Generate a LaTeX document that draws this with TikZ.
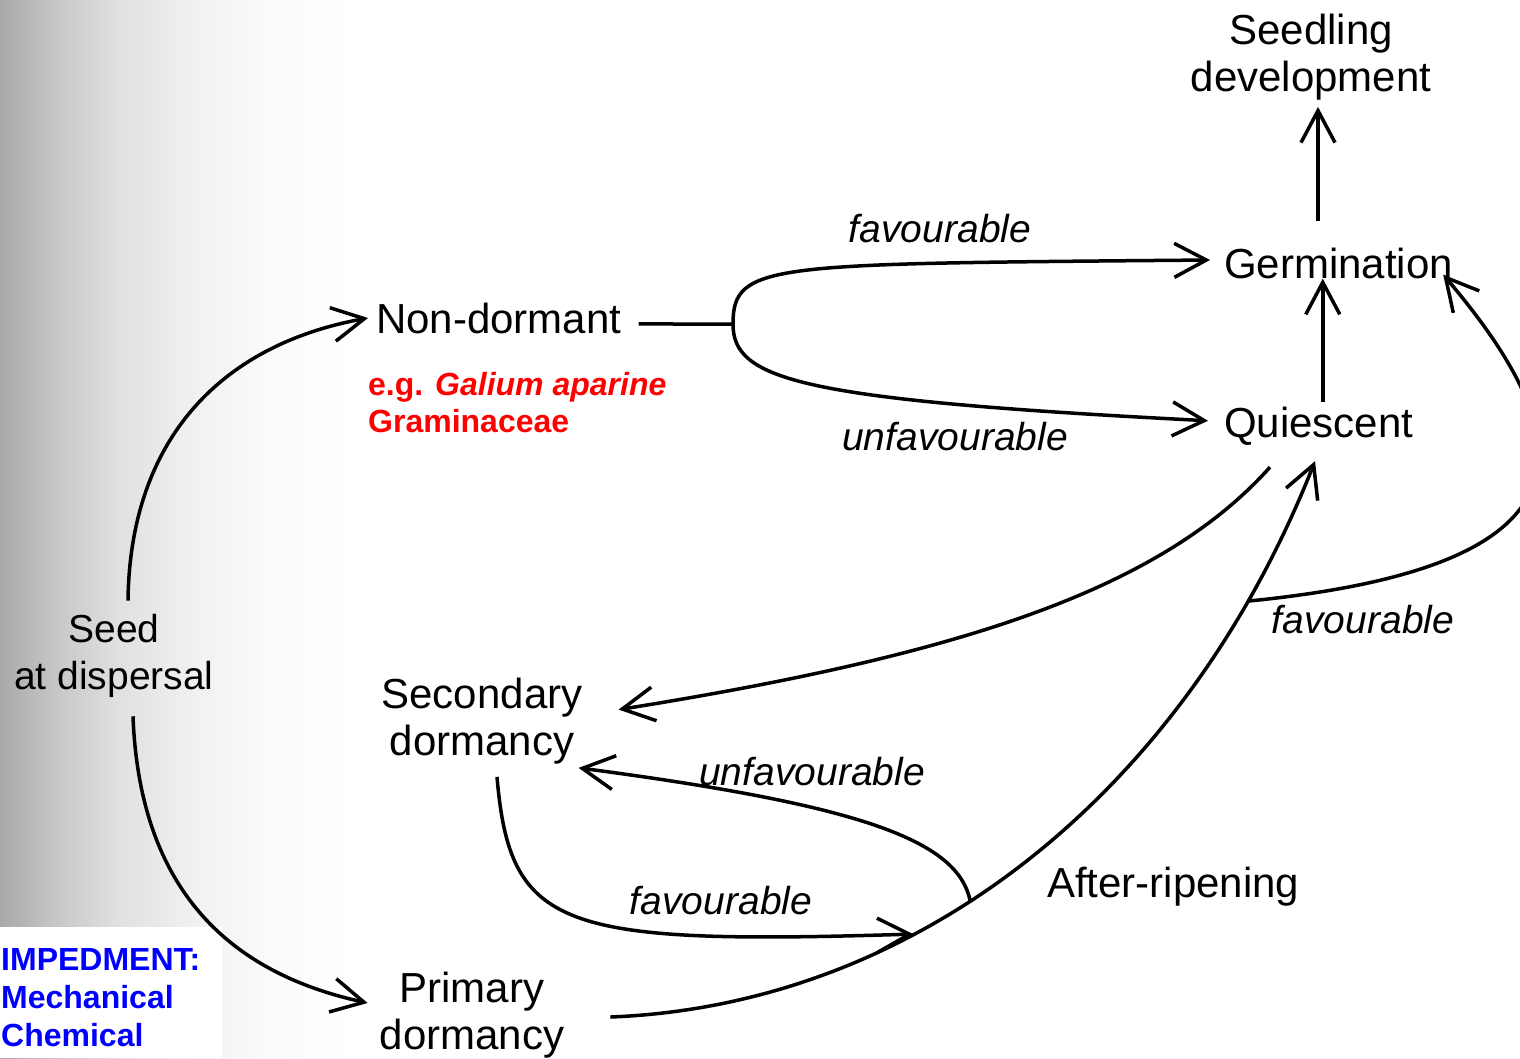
\documentclass[tikz,border=0pt]{standalone}
\usepackage{fontspec}
\setmainfont{Liberation Sans}
\usetikzlibrary{arrows.meta,calc}
\pgfdeclarehorizontalshading{leftfade}{100bp}{color(0bp)=(black!34); color(25bp)=(black!34); color(33bp)=(black!22); color(42bp)=(black!12); color(52bp)=(black!6); color(62bp)=(black!2); color(75bp)=(white); color(100bp)=(white)}

\begin{document}
\begin{tikzpicture}[x=1pt,y=-1pt,
    stage/.style={inner sep=0pt, font=\fontsize{42}{47}\selectfont},
    cond/.style={inner sep=0pt, anchor=base, font=\fontsize{39}{44}\selectfont\itshape},
    arr/.style={line width=3.5pt, -{Straight Barb[length=32pt,width=34pt]}},
    ln/.style={line width=3.5pt}]
    \path[use as bounding box] (0,0) rectangle (1520,1058);
    \clip (0,0) rectangle (1520,1058);
    \fill[white] (0,0) rectangle (1520,1058);
    \shade[shading=leftfade] (0,0) rectangle (350,1058);
    \fill[white] (0,927) rectangle (222,1058);

    \node[stage, align=center] (sdev) at (1311,57.6) {Seedling\\development};
    \node[stage, anchor=base west] (germ) at (1224,278) {Germination};
    \node[stage, anchor=base west] (quies) at (1224,437) {Quiescent};
    \node[stage, anchor=base west] (nondorm) at (376,333) {Non-dormant};
    \node[stage, align=center, font=\fontsize{39}{47}\selectfont] (seed) at (114,656.4) {Seed\\at dispersal};
    \node[stage, align=center] (secdorm) at (482,721.6) {Secondary\\dormancy};
    \node[stage, align=center] (primdorm) at (472,1015) {Primary\\dormancy};
    \node[stage, anchor=base west] (aftrip) at (1047,897) {After-ripening};

    \node[inner sep=0pt, anchor=north west, align=left, text=red,
      font=\fontsize{32}{37}\selectfont\bfseries] (example) at (368,372)
      {e.g. \textit{Galium aparine}\\Graminaceae};
    \node[inner sep=0pt, anchor=north west, align=left, text=blue,
      font=\fontsize{32}{38}\selectfont\bfseries] (imped) at (1,948)
      {IMPEDMENT:\\Mechanical\\Chemical};

    \node[cond] (fav1) at (940,242) {favourable};
    \node[cond] (unfav1) at (955,450) {unfavourable};
    \node[cond] (fav2) at (1363,633) {favourable};
    \node[cond] (unfav2) at (812,785) {unfavourable};
    \node[cond] (fav3) at (721,914) {favourable};

    \coordinate (split) at (733,324);
    \draw[ln] ($(nondorm.east)+(17,6)$) -- (split);
    \draw[arr] (split) .. controls (733,262) and (770,264) .. ($(germ.west)+(-14,-3)$);
    \draw[arr] (split) .. controls (733,380) and (800,400) .. ($(quies.west)+(-16,-5)$);
    \draw[arr] ($(quies.north)+(4,-4)$) -- ($(quies.north |- germ.south)+(4,0)$);
    \draw[arr] ($(germ.north -| sdev.south)+(7,-26)$) -- ($(sdev.south)+(7,6)$);

    \draw[arr] ($(seed.north)+(14,-14)$) .. controls (130,440) and (220,345) .. ($(nondorm.west)+(-8,0)$);
    \draw[arr] ($(seed.south)+(19,18)$) .. controls (140,900) and (240,975) .. ($(primdorm.west)+(-12,-12)$);

    \draw[arr] ($(primdorm.east)+(46,2)$) .. controls (920,1005) and (1185,790) .. ($(quies.south west)+(91,16)$)
      coordinate[pos=0.42] (fork1) coordinate[pos=0.85] (fork2);
    \draw[arr] ($(quies.south west)+(46,22)$) .. controls (1160,590) and (960,655) .. ($(secdorm.east)+(36,-12)$);
    \draw[arr] (fork1) .. controls (958,840) and (860,805) .. ($(secdorm.south east)+(-4,3)$);
    \draw[arr] ($(secdorm.south)+(15,12)$) .. controls (510,930) and (560,945) .. ($(fork1)+(-57,33)$);
    \draw[arr] (fork2) .. controls (1593,567) and (1591,449) .. ($(germ.south east)+(-10,-4)$);
\end{tikzpicture}
\end{document}
